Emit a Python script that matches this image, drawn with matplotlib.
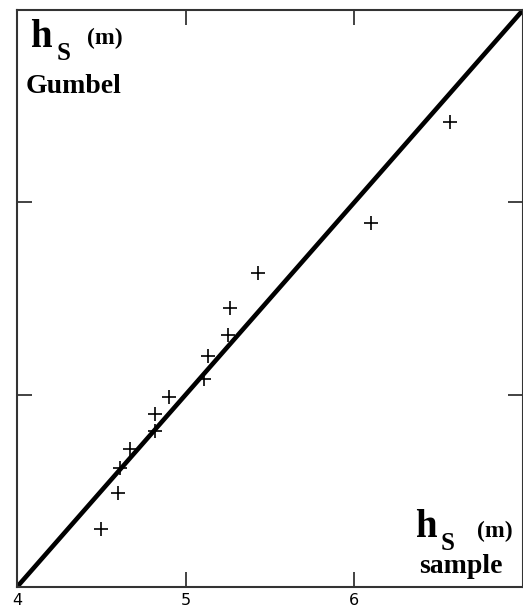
import matplotlib
matplotlib.use("Agg")
import matplotlib.pyplot as plt

# Significant wave height: sample quantiles vs Gumbel quantiles (m)
hs_sample = [4.50, 4.60, 4.61, 4.67, 4.82, 4.82, 4.90, 5.11, 5.13, 5.25, 5.26, 5.43, 6.10, 6.57]
hs_gumbel = [4.30, 4.49, 4.62, 4.72, 4.81, 4.90, 4.99, 5.08, 5.20, 5.31, 5.45, 5.63, 5.89, 6.42]

# 1:1 reference line
diag = [4.0, 7.0]

x_ticks = [4, 5, 6]
x_tick_labels = ["4", "5", "6"]
y_ticks = [4, 5, 6]

W, H = 523, 616
fig = plt.figure(figsize=(W / 100, H / 100), dpi=100)
fig.patch.set_facecolor("white")

ax = fig.add_axes([17 / W, 1 - 587 / H, 506 / W, 577 / H])
ax.plot(diag, diag, color="black", lw=3.3, solid_capstyle="butt", zorder=2)
ax.plot(hs_sample, hs_gumbel, linestyle="none", marker="+", color="black",
        markersize=10, markeredgewidth=1.2, zorder=3)

ax.set_xlim(4, 7)
ax.set_ylim(4, 7)
ax.set_xticks(x_ticks)
ax.set_xticklabels(x_tick_labels)
ax.set_yticks(y_ticks)
ax.set_yticklabels([])
ax.tick_params(direction="in", length=11, width=1.2, color="#222222",
               top=True, right=True, labelsize=11.5, pad=4)
ax.tick_params(axis="y", left=True, right=True)
for lbl in ax.get_xticklabels():
    lbl.set_family("DejaVu Sans")
for sp in ax.spines.values():
    sp.set_linewidth(1.5)
    sp.set_color("#333333")


def ftext(px, py, s, size, **kw):
    fig.text(px / W, 1 - py / H, s, fontsize=size, family="Liberation Serif",
             fontweight="bold", ha="left", va="baseline", **kw)


# y-axis label (top left)
ftext(30, 47, "h", 28)
ftext(57, 60, "S", 18)
ftext(87, 44, "(m)", 17)
ftext(26, 93, "Gumbel", 20)

# x-axis label (bottom right)
ftext(415, 537, "h", 28)
ftext(441, 550, "S", 18)
ftext(477, 537, "(m)", 17)
ftext(419, 573, "sample", 20)

fig.savefig("out.png", dpi=100, facecolor="white")
